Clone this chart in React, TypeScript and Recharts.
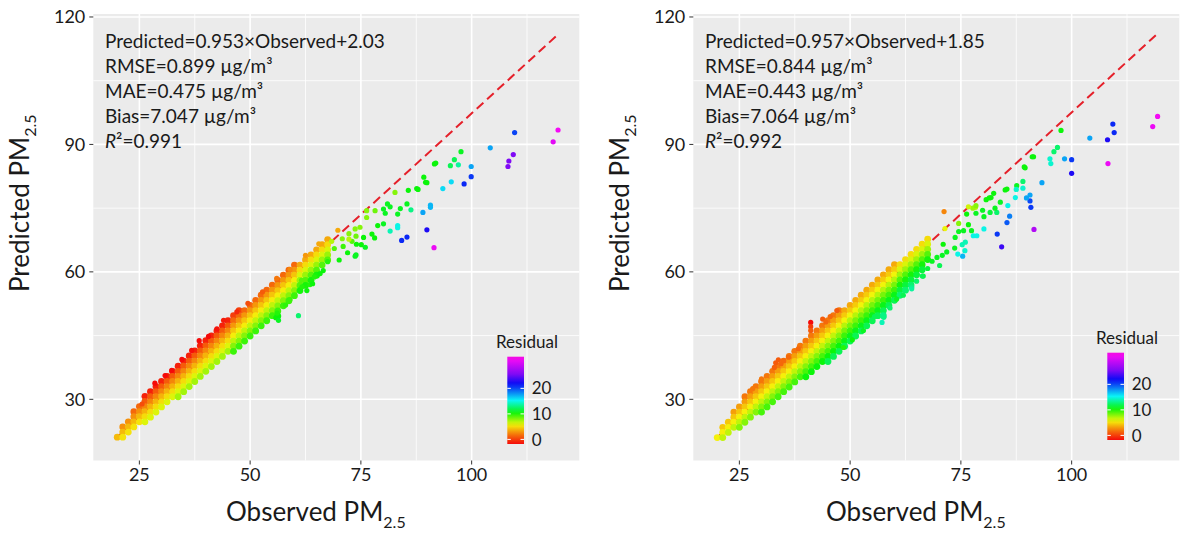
import React from 'react';
import { ScatterChart, Scatter, XAxis, YAxis, CartesianGrid, ReferenceLine } from 'recharts';

const FONT = 'Lato, "Open Sans", sans-serif';
const TEXT = '#1a1a1a';

const X_TICKS = [25, 50, 75, 100];
const Y_TICKS = [30, 60, 90, 120];
const X_MINOR = [37.5, 62.5, 87.5, 112.5];
const Y_MINOR = [45, 75, 105];
const X_DOMAIN = [14.6, 124.3];
const Y_DOMAIN = [15.6, 120.7];
const RESIDUAL_TICKS = [0, 10, 20];
const RES_MIN = -1.8;
const RES_MAX = 32.4;

// [observed, predicted, residual]
type Pt = [number, number, number];

const LEFT_BAND: Pt[] = [
  [20, 21.1, 4],
  [21.25, 23.5, 2.8], [21.25, 22.3, 4], [21.25, 21.1, 5.2],
  [22.5, 24.7, 2.8], [22.5, 23.5, 4], [22.5, 22.3, 5.2],
  [23.75, 27.1, 1.5], [23.75, 25.9, 2.8], [23.75, 24.7, 4], [23.75, 23.5, 5.2],
  [25, 28.3, 1.5], [25, 27.1, 2.8], [25, 25.9, 4], [25, 24.7, 5.2],
  [26.25, 30.7, -1], [26.25, 29.5, 1], [26.25, 28.3, 2.5], [26.25, 27.1, 3.8], [26.25, 25.9, 5], [26.25, 24.7, 6.2],
  [27.5, 31.8, -1], [27.5, 30.6, 1], [27.5, 29.4, 2.5], [27.5, 28.2, 3.8], [27.5, 27.0, 5], [27.5, 25.8, 6.2],
  [28.75, 33.0, -1], [28.75, 31.8, 1], [28.75, 30.6, 2.5], [28.75, 29.4, 3.8], [28.75, 28.2, 5], [28.75, 27.0, 6.2],
  [30, 34.2, -1], [30, 33.0, 1], [30, 31.8, 2.5], [30, 30.6, 3.8], [30, 29.4, 5], [30, 28.2, 6.2],
  [31.25, 35.4, -1], [31.25, 34.2, 1], [31.25, 33.0, 2.5], [31.25, 31.8, 3.8], [31.25, 30.6, 5], [31.25, 29.4, 6.2],
  [32.5, 36.6, -1], [32.5, 35.4, 1], [32.5, 34.2, 2.5], [32.5, 33.0, 3.8], [32.5, 31.8, 5], [32.5, 30.6, 6.2],
  [33.75, 37.8, -1], [33.75, 36.6, 1], [33.75, 35.4, 2.5], [33.75, 34.2, 3.8], [33.75, 33.0, 5], [33.75, 31.8, 6.2], [33.75, 30.6, 7.4],
  [35, 39.0, -1], [35, 37.8, 1], [35, 36.6, 2.5], [35, 35.4, 3.8], [35, 34.2, 5], [35, 33.0, 6.2], [35, 31.8, 7.4],
  [36.25, 40.2, -1], [36.25, 39.0, 1], [36.25, 37.8, 2.5], [36.25, 36.6, 3.8], [36.25, 35.4, 5], [36.25, 34.2, 6.2], [36.25, 33.0, 7.4],
  [37.5, 41.4, -1], [37.5, 40.2, 1], [37.5, 39.0, 2.5], [37.5, 37.8, 3.8], [37.5, 36.6, 5], [37.5, 35.4, 6.2], [37.5, 34.2, 7.4],
  [38.75, 42.6, -1], [38.75, 41.4, 1], [38.75, 40.2, 2.5], [38.75, 39.0, 3.8], [38.75, 37.8, 5], [38.75, 36.6, 6.2], [38.75, 35.4, 7.4],
  [40, 43.8, -1], [40, 42.6, 1], [40, 41.4, 2.5], [40, 40.2, 3.8], [40, 39.0, 5], [40, 37.8, 6.2], [40, 36.6, 7.4],
  [41.25, 44.9, -1], [41.25, 43.7, 1], [41.25, 42.5, 2.5], [41.25, 41.3, 3.8], [41.25, 40.1, 5], [41.25, 38.9, 6.2], [41.25, 37.7, 7.4],
  [42.5, 46.1, -1], [42.5, 44.9, 1], [42.5, 43.7, 2.5], [42.5, 42.5, 3.8], [42.5, 41.3, 5], [42.5, 40.1, 6.2], [42.5, 38.9, 7.4],
  [43.75, 47.3, -1], [43.75, 46.1, 1], [43.75, 44.9, 2.5], [43.75, 43.7, 3.8], [43.75, 42.5, 5], [43.75, 41.3, 6.2], [43.75, 40.1, 7.4],
  [45, 48.5, -1], [45, 47.3, 1], [45, 46.1, 2.5], [45, 44.9, 3.8], [45, 43.7, 5], [45, 42.5, 6.2], [45, 41.3, 7.4],
  [46.25, 49.7, 0], [46.25, 48.5, 1.5], [46.25, 47.3, 3], [46.25, 46.1, 4.3], [46.25, 44.9, 5.5], [46.25, 43.7, 6.8], [46.25, 42.5, 8], [46.25, 41.3, 9.5],
  [47.5, 50.9, 0], [47.5, 49.7, 1.5], [47.5, 48.5, 3], [47.5, 47.3, 4.3], [47.5, 46.1, 5.5], [47.5, 44.9, 6.8], [47.5, 43.7, 8], [47.5, 42.5, 9.5],
  [48.75, 50.9, 1.5], [48.75, 49.7, 3], [48.75, 48.5, 4.3], [48.75, 47.3, 5.5], [48.75, 46.1, 6.8], [48.75, 44.9, 8], [48.75, 43.7, 9.5],
  [50, 52.1, 1.5], [50, 50.9, 3], [50, 49.7, 4.3], [50, 48.5, 5.5], [50, 47.3, 6.8], [50, 46.1, 8], [50, 44.9, 9.5],
  [51.25, 53.3, 1.5], [51.25, 52.1, 3], [51.25, 50.9, 4.3], [51.25, 49.7, 5.5], [51.25, 48.5, 6.8], [51.25, 47.3, 8], [51.25, 46.1, 9.5],
  [52.5, 54.5, 1.5], [52.5, 53.3, 3], [52.5, 52.1, 4.3], [52.5, 50.9, 5.5], [52.5, 49.7, 6.8], [52.5, 48.5, 8], [52.5, 47.3, 9.5],
  [53.75, 55.7, 1.5], [53.75, 54.5, 3], [53.75, 53.3, 4.3], [53.75, 52.1, 5.5], [53.75, 50.9, 6.8], [53.75, 49.7, 8], [53.75, 48.5, 9.5],
  [55, 56.9, 1.5], [55, 55.7, 3], [55, 54.5, 4.3], [55, 53.3, 5.5], [55, 52.1, 6.8], [55, 50.9, 8], [55, 49.7, 9.5],
  [56.25, 58.0, 1.5], [56.25, 56.8, 3], [56.25, 55.6, 4.3], [56.25, 54.4, 5.5], [56.25, 53.2, 6.8], [56.25, 52.0, 8], [56.25, 50.8, 9.5], [56.25, 49.6, 10.5],
  [57.5, 59.2, 1.5], [57.5, 58.0, 3], [57.5, 56.8, 4.3], [57.5, 55.6, 5.5], [57.5, 54.4, 6.8], [57.5, 53.2, 8], [57.5, 52.0, 9.5],
  [58.75, 60.4, 1.5], [58.75, 59.2, 3], [58.75, 58.0, 4.3], [58.75, 56.8, 5.5], [58.75, 55.6, 6.8], [58.75, 54.4, 8], [58.75, 53.2, 9.5],
  [60, 61.6, 1.5], [60, 60.4, 3], [60, 59.2, 4.3], [60, 58.0, 5.5], [60, 56.8, 6.8], [60, 55.6, 8], [60, 54.4, 9.5],
  [61.25, 61.6, 3.5], [61.25, 60.4, 5], [61.25, 59.2, 6.3], [61.25, 58.0, 7.6], [61.25, 56.8, 9], [61.25, 55.6, 10.3],
  [62.5, 62.8, 3.5], [62.5, 61.6, 5], [62.5, 60.4, 6.3], [62.5, 59.2, 7.6], [62.5, 58.0, 9], [62.5, 56.8, 10.3],
  [63.75, 64.0, 3.5], [63.75, 62.8, 5], [63.75, 61.6, 6.3], [63.75, 60.4, 7.6], [63.75, 59.2, 9], [63.75, 58.0, 10.3],
  [65, 65.2, 3.5], [65, 64.0, 5], [65, 62.8, 6.3], [65, 61.6, 7.6], [65, 60.4, 9], [65, 59.2, 10.3],
  [66.25, 66.4, 3.5], [66.25, 65.2, 5], [66.25, 64.0, 6.3], [66.25, 62.8, 7.6], [66.25, 61.6, 9],
  [67.5, 67.6, 3.5], [67.5, 66.4, 5], [67.5, 65.2, 6.3], [67.5, 64.0, 7.6], [67.5, 62.8, 9],
];

const LEFT_SCATTER: Pt[] = [
  [25.6, 28.9, 0.5], [28.5, 33.8, -1.8], [30.8, 35.6, -1.8], [32.3, 36.8, -1.8], [34.6, 39.4, -1.8],
  [36.8, 41.5, -1.6], [38.5, 43.8, -1.8], [40.6, 44.8, -1.8], [42.5, 46.6, -1.5], [44, 48.6, -1.2],
  [47, 50.6, -0.8], [49.5, 52.6, 0.5], [52.8, 55.3, 1], [56, 58.5, 2], [59, 60.6, 2.5], [62.5, 63.9, 3], [65.5, 66.6, 3.5],
  [55.8, 49.2, 10.5], [56.1, 50.3, 10], [56.4, 48.6, 11], [60.9, 49.7, 12.5], [62.8, 55.6, 10.5], [63.5, 57, 10],
  [59, 53.5, 9.5], [58, 52.2, 9.8], [61.7, 56.5, 10], [64.5, 58.8, 10], [66.5, 60.3, 10.5],
  [69.8, 69.8, 3.5], [68.4, 67.2, 7], [70.1, 62.8, 10.5], [67.5, 62.4, 10], [65.8, 59.6, 10.5], [64.1, 57.2, 10.5],
  [61.6, 58, 9], [73.9, 68.4, 8.5], [73, 67.2, 9], [75.1, 66.4, 10.5], [73.9, 64, 11], [71, 66, 9.5],
  [72, 64.5, 10.5], [69, 65.5, 9], [70.8, 67.8, 8],
  [72.3, 69, 8], [72.3, 67.7, 7], [74, 66.5, 10.5], [73.7, 70.1, 8], [74.8, 70.5, 8], [76.3, 74.4, 8], [76.3, 72.8, 8],
  [73.7, 63.7, 11], [75.6, 68.1, 10.5], [76, 65.8, 11], [78.1, 68, 10.5], [77.5, 68.9, 10.5], [78.8, 70.9, 10.5],
  [80.1, 71.3, 11], [78.2, 74.4, 8.5], [80.5, 73.8, 11], [80.1, 74.8, 11], [81, 76, 11], [81.6, 75.3, 11],
  [83.3, 73.6, 11], [83.9, 74.9, 11], [86.3, 74.6, 13], [85.4, 76, 11], [83.3, 70.9, 15], [83.3, 70.4, 15],
  [81.6, 69.6, 14], [84.2, 67.4, 21], [85.4, 68.2, 21], [91.5, 65.7, 31], [89.9, 69.9, 22.5], [89, 74, 17.5],
  [90.7, 75.7, 17], [90.7, 75.2, 17], [82.7, 78.7, 8], [85.7, 79.2, 10.5], [87.6, 79.6, 10.5], [87.9, 79.4, 10.5],
  [89.6, 81.1, 10.5], [89.9, 81.0, 10.5], [89.2, 82.3, 10.5], [91.6, 85.4, 10.5], [91.9, 85.6, 10.5],
  [95.2, 85, 12], [97, 85.2, 13.5], [96.1, 86.4, 12], [97.6, 88.3, 11], [93.5, 79.6, 16], [95.4, 81.2, 16],
  [98.3, 80.7, 21], [99.9, 82.4, 20.5], [99.9, 84.8, 17.5], [104.2, 89.2, 17.5], [108.2, 84.8, 25.6],
  [108.4, 86.1, 25.6], [109.4, 87.6, 25.6], [118.4, 90.6, 30.5], [119.5, 93.4, 31.4], [109.7, 92.8, 20.1],
];

const RIGHT_BAND: Pt[] = [
  [20, 21.0, 5.6],
  [21.25, 23.4, 4.4], [21.25, 22.2, 5.6], [21.25, 21.0, 6.8],
  [22.5, 24.6, 4.4], [22.5, 23.4, 5.6], [22.5, 22.2, 6.8],
  [23.75, 27.0, 3.2], [23.75, 25.8, 4.4], [23.75, 24.6, 5.6], [23.75, 23.4, 6.8],
  [25, 28.2, 3.2], [25, 27.0, 4.4], [25, 25.8, 5.6], [25, 24.6, 6.8], [25, 23.4, 8],
  [26.25, 30.6, 2], [26.25, 29.4, 3.2], [26.25, 28.2, 4.4], [26.25, 27.0, 5.6], [26.25, 25.8, 6.8], [26.25, 24.6, 8],
  [27.5, 31.8, 2], [27.5, 30.6, 3.2], [27.5, 29.4, 4.4], [27.5, 28.2, 5.6], [27.5, 27.0, 6.8], [27.5, 25.8, 8],
  [28.75, 33.0, 2], [28.75, 31.8, 3.2], [28.75, 30.6, 4.4], [28.75, 29.4, 5.6], [28.75, 28.2, 6.8], [28.75, 27.0, 8],
  [30, 34.2, 2], [30, 33.0, 3.2], [30, 31.8, 4.4], [30, 30.6, 5.6], [30, 29.4, 6.8], [30, 28.2, 8], [30, 27.0, 9.3],
  [31.25, 35.4, 2], [31.25, 34.2, 3.2], [31.25, 33.0, 4.4], [31.25, 31.8, 5.6], [31.25, 30.6, 6.8], [31.25, 29.4, 8], [31.25, 28.2, 9.3],
  [32.5, 36.6, 2], [32.5, 35.4, 3.2], [32.5, 34.2, 4.4], [32.5, 33.0, 5.6], [32.5, 31.8, 6.8], [32.5, 30.6, 8], [32.5, 29.4, 9.3],
  [33.75, 37.8, 2], [33.75, 36.6, 3.2], [33.75, 35.4, 4.4], [33.75, 34.2, 5.6], [33.75, 33.0, 6.8], [33.75, 31.8, 8], [33.75, 30.6, 9.3],
  [35, 39.0, 2], [35, 37.8, 3.2], [35, 36.6, 4.4], [35, 35.4, 5.6], [35, 34.2, 6.8], [35, 33.0, 8], [35, 31.8, 9.3],
  [36.25, 40.1, 2], [36.25, 38.9, 3.2], [36.25, 37.7, 4.4], [36.25, 36.5, 5.6], [36.25, 35.3, 6.8], [36.25, 34.1, 8], [36.25, 32.9, 9.3],
  [37.5, 41.3, 2], [37.5, 40.1, 3.2], [37.5, 38.9, 4.4], [37.5, 37.7, 5.6], [37.5, 36.5, 6.8], [37.5, 35.3, 8], [37.5, 34.1, 9.3],
  [38.75, 42.5, 2], [38.75, 41.3, 3.2], [38.75, 40.1, 4.4], [38.75, 38.9, 5.6], [38.75, 37.7, 6.8], [38.75, 36.5, 8], [38.75, 35.3, 9.3],
  [40, 43.7, 2], [40, 42.5, 3.2], [40, 41.3, 4.4], [40, 40.1, 5.6], [40, 38.9, 6.8], [40, 37.7, 8], [40, 36.5, 9.3], [40, 35.3, 10.5],
  [41.25, 44.9, 2], [41.25, 43.7, 3.2], [41.25, 42.5, 4.4], [41.25, 41.3, 5.6], [41.25, 40.1, 6.8], [41.25, 38.9, 8], [41.25, 37.7, 9.3], [41.25, 36.5, 10.5],
  [42.5, 46.1, 2], [42.5, 44.9, 3.2], [42.5, 43.7, 4.4], [42.5, 42.5, 5.6], [42.5, 41.3, 6.8], [42.5, 40.1, 8], [42.5, 38.9, 9.3], [42.5, 37.7, 10.5],
  [43.75, 47.3, 2], [43.75, 46.1, 3.2], [43.75, 44.9, 4.4], [43.75, 43.7, 5.6], [43.75, 42.5, 6.8], [43.75, 41.3, 8], [43.75, 40.1, 9.3], [43.75, 38.9, 10.5],
  [45, 48.5, 2], [45, 47.3, 3.2], [45, 46.1, 4.4], [45, 44.9, 5.6], [45, 43.7, 6.8], [45, 42.5, 8], [45, 41.3, 9.3], [45, 40.1, 10.5], [45, 38.9, 12],
  [46.25, 49.7, 2], [46.25, 48.5, 3.2], [46.25, 47.3, 4.4], [46.25, 46.1, 5.6], [46.25, 44.9, 6.8], [46.25, 43.7, 8], [46.25, 42.5, 9.3], [46.25, 41.3, 10.5], [46.25, 40.1, 12],
  [47.5, 50.9, 2], [47.5, 49.7, 3.2], [47.5, 48.5, 4.4], [47.5, 47.3, 5.6], [47.5, 46.1, 6.8], [47.5, 44.9, 8], [47.5, 43.7, 9.3], [47.5, 42.5, 10.5], [47.5, 41.3, 12],
  [48.75, 50.9, 3.5], [48.75, 49.7, 4.5], [48.75, 48.5, 5.8], [48.75, 47.3, 7], [48.75, 46.1, 8.3], [48.75, 44.9, 9.5], [48.75, 43.7, 10.8], [48.75, 42.5, 12],
  [50, 52.1, 3.5], [50, 50.9, 4.5], [50, 49.7, 5.8], [50, 48.5, 7], [50, 47.3, 8.3], [50, 46.1, 9.5], [50, 44.9, 10.8], [50, 43.7, 12],
  [51.25, 53.3, 3.5], [51.25, 52.1, 4.5], [51.25, 50.9, 5.8], [51.25, 49.7, 7], [51.25, 48.5, 8.3], [51.25, 47.3, 9.5], [51.25, 46.1, 10.8], [51.25, 44.9, 12],
  [52.5, 54.5, 3.5], [52.5, 53.3, 4.5], [52.5, 52.1, 5.8], [52.5, 50.9, 7], [52.5, 49.7, 8.3], [52.5, 48.5, 9.5], [52.5, 47.3, 10.8], [52.5, 46.1, 12],
  [53.75, 55.7, 3.5], [53.75, 54.5, 4.5], [53.75, 53.3, 5.8], [53.75, 52.1, 7], [53.75, 50.9, 8.3], [53.75, 49.7, 9.5], [53.75, 48.5, 10.8], [53.75, 47.3, 12],
  [55, 56.9, 3.5], [55, 55.7, 4.5], [55, 54.5, 5.8], [55, 53.3, 7], [55, 52.1, 8.3], [55, 50.9, 9.5], [55, 49.7, 10.8], [55, 48.5, 12],
  [56.25, 58.1, 3.5], [56.25, 56.9, 4.5], [56.25, 55.7, 5.8], [56.25, 54.5, 7], [56.25, 53.3, 8.3], [56.25, 52.1, 9.5], [56.25, 50.9, 10.8], [56.25, 49.7, 12],
  [57.5, 59.3, 3.5], [57.5, 58.1, 4.5], [57.5, 56.9, 5.8], [57.5, 55.7, 7], [57.5, 54.5, 8.3], [57.5, 53.3, 9.5], [57.5, 52.1, 10.8], [57.5, 50.9, 12], [57.5, 49.7, 13],
  [58.75, 60.5, 3.5], [58.75, 59.3, 4.5], [58.75, 58.1, 5.8], [58.75, 56.9, 7], [58.75, 55.7, 8.3], [58.75, 54.5, 9.5], [58.75, 53.3, 10.8], [58.75, 52.1, 12],
  [60, 61.7, 3.5], [60, 60.5, 4.5], [60, 59.3, 5.8], [60, 58.1, 7], [60, 56.9, 8.3], [60, 55.7, 9.5], [60, 54.5, 10.8], [60, 53.3, 12],
  [61.25, 61.7, 5], [61.25, 60.5, 6.3], [61.25, 59.3, 7.5], [61.25, 58.1, 9], [61.25, 56.9, 10.3], [61.25, 55.7, 11.5], [61.25, 54.5, 12.5],
  [62.5, 62.9, 5], [62.5, 61.7, 6.3], [62.5, 60.5, 7.5], [62.5, 59.3, 9], [62.5, 58.1, 10.3], [62.5, 56.9, 11.5], [62.5, 55.7, 12.5],
  [63.75, 64.1, 5], [63.75, 62.9, 6.3], [63.75, 61.7, 7.5], [63.75, 60.5, 9], [63.75, 59.3, 10.3], [63.75, 58.1, 11.5], [63.75, 56.9, 12.5],
  [65, 65.3, 5], [65, 64.1, 6.3], [65, 62.9, 7.5], [65, 61.7, 9], [65, 60.5, 10.3], [65, 59.3, 11.5],
  [66.25, 66.5, 5], [66.25, 65.3, 6.3], [66.25, 64.1, 7.5], [66.25, 62.9, 9], [66.25, 61.7, 10.3], [66.25, 60.5, 11.5],
  [67.5, 67.7, 5], [67.5, 66.5, 6.3], [67.5, 65.3, 7.5], [67.5, 64.1, 9], [67.5, 62.9, 10.3],
];

const RIGHT_SCATTER: Pt[] = [
  [41.1, 48.1, -1.8], [41.1, 47.1, 0], [41.1, 46.2, 1], [43.8, 48.9, 1], [33.2, 38.6, 1], [33.8, 39.3, 1],
  [34.4, 38.4, 1.5], [32.9, 37.5, 1.2], [35, 39.1, 1.5], [36.1, 39.9, 1.5], [38.3, 41.9, 1.5], [47, 50.9, 1],
  [30, 34.8, 2], [28, 32.5, 2], [45.5, 49.5, 1.5], [44.5, 48.2, 1.5],
  [57.2, 48.1, 14], [57.6, 49.3, 13], [53, 46.2, 11], [60.5, 53.6, 11], [63.9, 56.4, 13], [63.9, 56, 13.5],
  [66.5, 59, 11.5], [55.5, 49.5, 12], [59, 51.5, 12.5], [62, 54.5, 12], [50.5, 44, 10.5], [48.5, 42.2, 10],
  [68.5, 62.5, 11], [69.6, 63.4, 11], [67.5, 60.8, 11.5], [66.3, 59, 12], [65, 57.8, 12.5], [70.2, 61.5, 12],
  [71.2, 74.2, 2.5], [71.4, 70.2, 6], [71, 66.5, 10.5], [70.8, 63.9, 11], [74.5, 71.4, 8], [78.3, 75.2, 7],
  [71.8, 64.7, 11], [73.6, 65.6, 11], [75.9, 65, 14.5], [74.3, 64.2, 15], [75.4, 63.7, 17], [75.3, 66.4, 14],
  [76, 67, 14], [73.7, 68.1, 11], [74.5, 69.5, 11], [75.6, 69.7, 11], [77.8, 68.5, 15], [78.6, 68.5, 15],
  [77.4, 69.7, 11], [76.7, 71.1, 10.5], [76.3, 73.6, 10.5], [77.7, 75, 7.5], [76.7, 75.3, 6.5], [78.4, 75.6, 8],
  [78.4, 73.8, 11], [79.9, 74.5, 11], [81.6, 74, 11.5], [80.2, 73, 11], [80.2, 70.1, 15], [80.7, 77, 10.5],
  [81.4, 77.4, 10.5], [81.8, 77.5, 10.5], [82.4, 78.5, 10.5], [83.1, 74, 12.5], [82.7, 75, 11], [83.9, 76.4, 11],
  [85.4, 79.5, 10.5], [85, 79.3, 10.5], [84.2, 65.9, 23.5], [83.2, 68.9, 20.5], [85.4, 71.6, 19.5], [86, 73.1, 18.5],
  [85.6, 75.6, 15], [87.3, 77.5, 15], [87.6, 80.3, 11], [87.5, 79.4, 14.5], [91.5, 70, 28], [90.8, 75.2, 20.5],
  [90.6, 76.7, 20], [89.8, 77.4, 17.5], [90.6, 78.1, 17.5], [89, 79.7, 14.5], [89, 81.3, 12.5], [89.5, 84.5, 10.5],
  [89.3, 84.7, 10.5], [91.4, 87.1, 10.5], [91.1, 87.1, 10.5], [93.3, 81, 17.5], [95.3, 85.5, 14.5], [95.1, 86.6, 14.5],
  [96, 88.3, 12.5], [96.8, 89.3, 12.5], [97.6, 93.3, 10.5], [98.4, 86.6, 17.5], [100, 83.2, 22.5], [100, 86.4, 20.5],
  [104.1, 91.5, 17.5], [108.2, 85.5, 31], [108.1, 91.1, 22.5], [109.6, 92.8, 21], [109.3, 94.8, 21],
  [118.3, 94.2, 31], [119.4, 96.6, 31.4],
];

const LEFT_FIT = [{ x: 19.5, y: 20.6 }, { x: 119.3, y: 115.7 }];
const RIGHT_FIT = [{ x: 19.7, y: 20.7 }, { x: 119.3, y: 116.0 }];

const LEFT_STATS = ['Predicted=0.953×Observed+2.03', 'RMSE=0.899 µg/m³', 'MAE=0.475 µg/m³', 'Bias=7.047 µg/m³'];
const LEFT_R2 = '0.991';
const RIGHT_STATS = ['Predicted=0.957×Observed+1.85', 'RMSE=0.844 µg/m³', 'MAE=0.443 µg/m³', 'Bias=7.064 µg/m³'];
const RIGHT_R2 = '0.992';

// hue along the colour bar, bottom (0) to top (1)
const HUE_STOPS = [[0, 0], [0.12, 30], [0.22, 60], [0.36, 120], [0.5, 180], [0.64, 225], [0.8, 270], [1, 305]];

const residualT = (r: number) => Math.min(1, Math.max(0, (r - RES_MIN) / (RES_MAX - RES_MIN)));

const hueAt = (t: number) => {
  for (let i = 1; i < HUE_STOPS.length; i++) {
    const [t1, h1] = HUE_STOPS[i];
    const [t0, h0] = HUE_STOPS[i - 1];
    if (t <= t1) return h0 + ((t - t0) / (t1 - t0)) * (h1 - h0);
  }
  return HUE_STOPS[HUE_STOPS.length - 1][1];
};

const colorAtT = (t: number) => `hsl(${hueAt(t).toFixed(1)}, 92%, 50%)`;
const residualColor = (r: number) => colorAtT(residualT(r));

const toPoints = (arr: Pt[]) => arr.map(([x, y, r]) => ({ x, y, r }));

const makeDot = (radius: number) => (props: any) => (
  <circle cx={props.cx} cy={props.cy} r={radius} fill={residualColor(props.payload.r)} />
);

const tickStyle = { fill: TEXT, fontSize: 18, fontFamily: FONT };

type PanelProps = {
  band: Pt[];
  scatter: Pt[];
  fit: { x: number; y: number }[];
};

const Panel = ({ band, scatter, fit }: PanelProps) => (
  <ScatterChart width={600} height={538} margin={{ top: 14, right: 20.7, bottom: 0, left: 0 }}>
    <CartesianGrid fill="#EBEBEB" stroke="#FFFFFF" strokeWidth={0.8} horizontalValues={Y_MINOR} verticalValues={X_MINOR} />
    <CartesianGrid fill="none" stroke="#FFFFFF" strokeWidth={1.6} horizontalValues={Y_TICKS} verticalValues={X_TICKS} />
    <XAxis
      type="number"
      dataKey="x"
      domain={X_DOMAIN}
      ticks={X_TICKS}
      allowDataOverflow
      height={77.5}
      tickSize={4}
      tickMargin={4}
      axisLine={false}
      tickLine={{ stroke: '#333333' }}
      tick={tickStyle}
    />
    <YAxis
      type="number"
      dataKey="y"
      domain={Y_DOMAIN}
      ticks={Y_TICKS}
      allowDataOverflow
      width={93.3}
      tickSize={4}
      tickMargin={4}
      axisLine={false}
      tickLine={{ stroke: '#333333' }}
      tick={tickStyle}
    />
    <Scatter data={toPoints(band)} shape={makeDot(3.4)} isAnimationActive={false} />
    <Scatter data={toPoints(scatter)} shape={makeDot(2.6)} isAnimationActive={false} />
    <ReferenceLine segment={fit} stroke="#E5202A" strokeWidth={2} strokeDasharray="9 5" />
  </ScatterChart>
);

type OverlayProps = {
  dx: number;
  stats: string[];
  r2: string;
  id: string;
  legendShift: number;
};

const Overlay = ({ dx, stats, r2, id, legendShift }: OverlayProps) => {
  const barTop = 356.7 + legendShift;
  const barBottom = 444 + legendShift;
  const barLeft = 507.3;
  const barRight = 524;
  const barH = barBottom - barTop;
  const stops = Array.from({ length: 21 }, (_, i) => i / 20);
  return (
    <g transform={`translate(${dx},0)`} fontFamily={FONT} fill={TEXT}>
      {stats.map((s, i) => (
        <text key={s} x={105} y={48.3 + i * 25} fontSize={19}>
          {s}
        </text>
      ))}
      <text x={105} y={48.3 + stats.length * 25} fontSize={19}>
        <tspan fontStyle="italic">R</tspan>
        <tspan>²={r2}</tspan>
      </text>

      <text x={226} y={521} fontSize={26}>
        Observed PM<tspan fontSize={16} dy={7}>2.5</tspan>
      </text>
      <text x={29.4} y={292} fontSize={26} transform="rotate(-90 29.4 292)">
        Predicted PM<tspan fontSize={16} dy={7}>2.5</tspan>
      </text>

      <defs>
        <linearGradient id={id} x1="0" y1="1" x2="0" y2="0">
          {stops.map((t) => (
            <stop key={t} offset={t} stopColor={colorAtT(t)} />
          ))}
        </linearGradient>
      </defs>
      <text x={496} y={347.8 + legendShift} fontSize={17}>
        Residual
      </text>
      <rect x={barLeft} y={barTop} width={barRight - barLeft} height={barH} fill={`url(#${id})`} />
      {RESIDUAL_TICKS.map((v) => {
        const y = barBottom - residualT(v) * barH;
        return (
          <g key={v}>
            <line x1={barLeft} x2={barLeft + 3.5} y1={y} y2={y} stroke="#FFFFFF" strokeWidth={1} />
            <line x1={barRight - 3.5} x2={barRight} y1={y} y2={y} stroke="#FFFFFF" strokeWidth={1} />
            <text x={531.7} y={y + 6.1} fontSize={17}>
              {v}
            </text>
          </g>
        );
      })}
    </g>
  );
};

export default function App() {
  return (
    <div
      style={{
        position: 'absolute',
        left: 0,
        top: 0,
        width: 1180,
        height: 538,
        background: '#FFFFFF',
        overflow: 'hidden',
      }}
    >
      <div style={{ position: 'absolute', left: 0, top: 0 }}>
        <Panel band={LEFT_BAND} scatter={LEFT_SCATTER} fit={LEFT_FIT} />
      </div>
      <div style={{ position: 'absolute', left: 600, top: 0 }}>
        <Panel band={RIGHT_BAND} scatter={RIGHT_SCATTER} fit={RIGHT_FIT} />
      </div>
      <svg
        width={1180}
        height={538}
        style={{ position: 'absolute', left: 0, top: 0, pointerEvents: 'none' }}
      >
        <Overlay dx={0} stats={LEFT_STATS} r2={LEFT_R2} id="barLeft" legendShift={0} />
        <Overlay dx={600} stats={RIGHT_STATS} r2={RIGHT_R2} id="barRight" legendShift={-4} />
      </svg>
    </div>
  );
}
